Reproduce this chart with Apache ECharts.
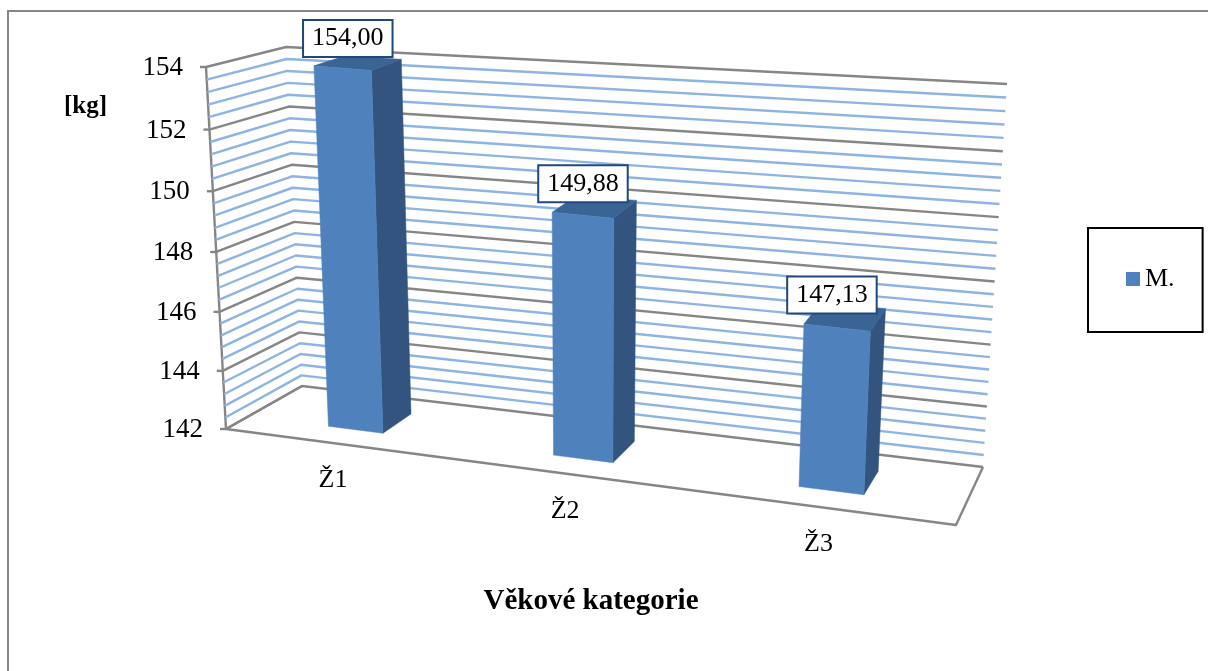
<!DOCTYPE html>
<html>
<head>
<meta charset="utf-8">
<style>html,body{margin:0;padding:0;background:#fff}#chart{width:1208px;height:671px}</style>
<script src="https://cdn.jsdelivr.net/npm/echarts@6/dist/echarts.min.js"></script>
</head>
<body>
<div id="chart"></div>
<script>
// Bar heights per age category, in kg
const categories = ['Ž1', 'Ž2', 'Ž3'];
const weights = [154.00, 149.88, 147.13];
const seriesName = 'M.';

// Value axis
const axisMin = 142;
const axisMax = 154;
const minorStep = 0.4;
const minorPerMajor = 5;

const wallTicks = [];
for (let i = 0; i <= (axisMax - axisMin) / minorStep + 1e-6; i++) {
  wallTicks.push(+(axisMin + i * minorStep).toFixed(1));
}

const SERIF = '"Liberation Serif", "Times New Roman", serif';
const FRONT = '#4F81BD', SIDE = '#32547F', TOP = '#3A6493';
const GRID_BLUE = '#8DB4E3', GRID_GRAY = '#868686';

// The eight corners of the plot box on screen: [depth][height][across]
const BOX = {
  front: { low: [[226, 429], [956, 525]], high: [[206, 67], [975, 140]] },
  back:  { low: [[302, 386], [983, 467]], high: [[286, 47], [1007, 84]] }
};
const PERSPECTIVE = 1.14;        // foreshortening along the category direction
const WALL_RISE = [1.045, 1.065]; // vertical foreshortening of the walls, front and back
const BAR_DEPTH = [0.30, 0.72];
const BAR_BAND = 0.25;           // bar width as a share of the category band
const BAR_STRETCH = 1.006;       // bars stand slightly proud of the wall scale

function mix(a, b, t) { return [a[0] + (b[0] - a[0]) * t, a[1] + (b[1] - a[1]) * t]; }

function recede(t, k) { return t / (t + k * (1 - t)); }

// u: across, v: height, d: depth, each 0..1
function project(u, v, d) {
  const w = recede(u, PERSPECTIVE);
  const f = mix(mix(BOX.front.low[0], BOX.front.low[1], w), mix(BOX.front.high[0], BOX.front.high[1], w), v);
  const b = mix(mix(BOX.back.low[0], BOX.back.low[1], w), mix(BOX.back.high[0], BOX.back.high[1], w), v);
  return mix(f, b, d);
}

// Same as project, for a point lying on a wall
function wallPoint(u, v, d) {
  const k = WALL_RISE[0] + (WALL_RISE[1] - WALL_RISE[0]) * d;
  return project(u, recede(v, k), d);
}

function unit(params, px, py) {
  const c = params.coordSys;
  return [(px - c.x) / c.width, (c.y + c.height - py) / c.height];
}

function line(points, color) {
  return {
    type: 'polyline',
    shape: { points: points },
    style: { stroke: color, lineWidth: 2.4, fill: null, lineJoin: 'round' },
    silent: true
  };
}

// Wall gridlines, value tick labels and floor outline
function renderWalls(params, api) {
  const value = api.value(0);
  const v = unit(params, 0, api.coord([0, value])[1])[1];
  const isMajor = params.dataIndex % minorPerMajor === 0;
  const children = [];
  const corner = wallPoint(0, v, 0);
  children.push(line([corner, wallPoint(0, v, 1), wallPoint(1, v, 1)], isMajor ? GRID_GRAY : GRID_BLUE));
  if (isMajor) {
    children.push(line([[corner[0] - 6, corner[1]], corner], GRID_GRAY));
    children.push({
      type: 'text',
      style: {
        x: corner[0] - 23, y: corner[1] + 1, text: String(value),
        font: '27px ' + SERIF, fill: '#000', align: 'right', verticalAlign: 'middle'
      },
      silent: true
    });
  }
  if (params.dataIndex === 0) {
    children.push(line([project(0, 0, 0), project(0, 1, 0)], GRID_GRAY));
    children.push(line([project(0, 0, 1), project(0, 0, 0), project(1, 0, 0), project(1, 0, 1)], GRID_GRAY));
  }
  return { type: 'group', children: children };
}

function face(points, color) {
  return { type: 'polygon', shape: { points: points }, style: { fill: color, stroke: color, lineWidth: 0.5 } };
}

// One box-shaped bar with its value label and category label
function renderBar(params, api) {
  const i = api.value(0);
  const value = api.value(1);
  const top = api.coord([i, value]);
  const band = api.size([1, 0])[0];
  const hw = band * BAR_BAND / 2;
  const [u0] = unit(params, top[0] - hw, top[1]);
  const [u1, rawV] = unit(params, top[0] + hw, top[1]);
  const [uc] = unit(params, top[0], top[1]);
  const v = rawV * BAR_STRETCH;
  const [d0, d1] = BAR_DEPTH;
  const fl0 = project(u0, 0, d0), fr0 = project(u1, 0, d0), br0 = project(u1, 0, d1);
  const fl1 = project(u0, v, d0), fr1 = project(u1, v, d0), br1 = project(u1, v, d1), bl1 = project(u0, v, d1);
  const head = project(uc, v, 0.5);
  const foot = project(uc, 0, 0);
  return {
    type: 'group',
    children: [
      face([fr0, br0, br1, fr1], SIDE),
      face([fl1, fr1, br1, bl1], TOP),
      face([fl0, fr0, fr1, fl1], FRONT),
      {
        type: 'text', z2: 10,
        style: {
          x: head[0] - 8.5 - 5 * uc, y: head[1] - 24.5 + 4 * (1 - v),
          text: value.toFixed(2).replace('.', ','),
          font: '26px ' + SERIF, fill: '#000', align: 'center', verticalAlign: 'middle',
          backgroundColor: '#fff', borderColor: '#1F497D', borderWidth: 2, padding: [5, 8, 4, 8]
        }
      },
      {
        type: 'text',
        style: {
          x: foot[0] - 2, y: foot[1] + 37, text: categories[i],
          font: '26px ' + SERIF, fill: '#000', align: 'center', verticalAlign: 'middle'
        }
      }
    ]
  };
}

const chart = echarts.init(document.getElementById('chart'), null, { renderer: 'canvas' });
chart.setOption({
  animation: false,
  backgroundColor: '#fff',
  title: [
    {
      text: 'Věkové kategorie', left: 591, top: 602, padding: 0, textAlign: 'center', textVerticalAlign: 'middle',
      textStyle: { fontFamily: SERIF, fontSize: 29, fontWeight: 'bold', color: '#000' }
    },
    {
      text: '[kg]', left: 85.5, top: 107, padding: 0, textAlign: 'center', textVerticalAlign: 'middle',
      textStyle: { fontFamily: SERIF, fontSize: 25, fontWeight: 'bold', color: '#000' }
    }
  ],
  legend: {
    data: [seriesName],
    left: 1088, top: 228,
    orient: 'vertical',
    icon: 'rect', itemWidth: 14, itemHeight: 14,
    padding: [38, 28, 40, 38],
    borderColor: '#000', borderWidth: 2,
    selectedMode: false,
    textStyle: { fontFamily: SERIF, fontSize: 26, color: '#000', padding: [3, 0, 0, 0] }
  },
  graphic: [{
    type: 'rect', silent: true, z: -10,
    shape: { x: 8, y: 11, width: 1300, height: 800 },
    style: { fill: null, stroke: '#868686', lineWidth: 2 }
  }],
  grid: { left: 206, top: 67, width: 760, height: 362 },
  xAxis: { type: 'category', data: categories, show: false },
  yAxis: { type: 'value', min: axisMin, max: axisMax, interval: 2, show: false },
  series: [
    {
      name: 'Mřížka', type: 'custom', coordinateSystem: 'cartesian2d',
      data: wallTicks.map(t => [t]),
      encode: { y: 0 }, renderItem: renderWalls, silent: true, z: 1
    },
    {
      name: seriesName, type: 'custom', coordinateSystem: 'cartesian2d',
      data: weights.map((w, i) => [i, w]),
      encode: { x: 0, y: 1 }, renderItem: renderBar, itemStyle: { color: FRONT }, z: 2
    }
  ]
});
</script>
</body>
</html>
